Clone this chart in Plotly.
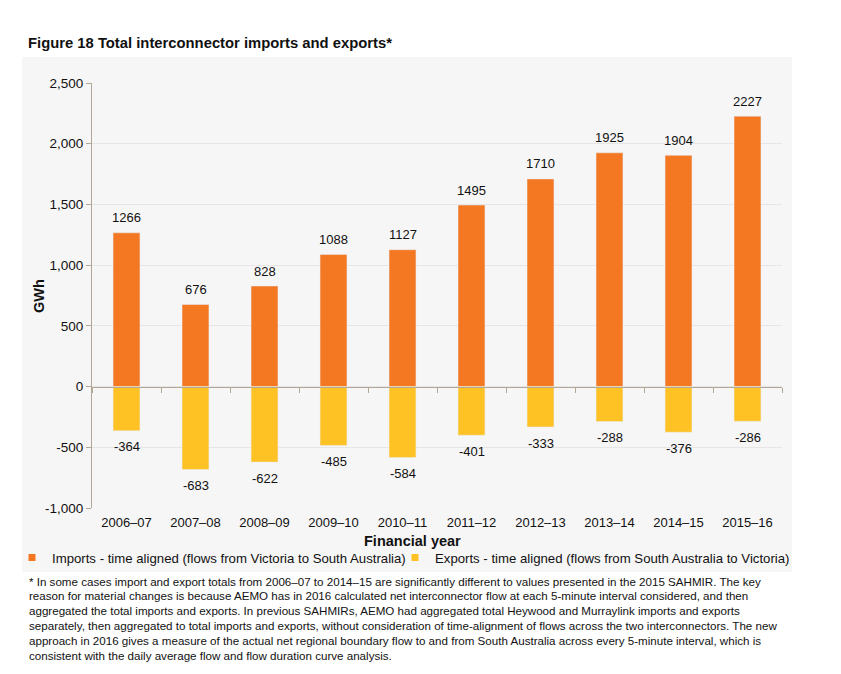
import plotly.graph_objects as go

years = ["2006–07", "2007–08", "2008–09", "2009–10", "2010–11",
         "2011–12", "2012–13", "2013–14", "2014–15", "2015–16"]
imports = [1266, 676, 828, 1088, 1127, 1495, 1710, 1925, 1904, 2227]
exports = [-364, -683, -622, -485, -584, -401, -333, -288, -376, -286]
y_ticks = [-1000, -500, 0, 500, 1000, 1500, 2000, 2500]
y_ticktext = ["-1,000", "-500", "0", "500", "1,000", "1,500", "2,000", "2,500"]

title = "Figure 18 Total interconnector imports and exports*"
imports_name = "Imports - time aligned (flows from Victoria to South Australia)"
exports_name = "Exports - time aligned (flows from South Australia to Victoria)"
footnote = [
    "* In some cases import and export totals from 2006–07 to 2014–15 are significantly different to values presented in the 2015 SAHMIR. The key",
    "reason for material changes is because AEMO has in 2016 calculated net interconnector flow at each 5-minute interval considered, and then",
    "aggregated the total imports and exports. In previous SAHMIRs, AEMO had aggregated total Heywood and Murraylink imports and exports",
    "separately, then aggregated to total imports and exports, without consideration of time-alignment of flows across the two interconnectors. The new",
    "approach in 2016 gives a measure of the actual net regional boundary flow to and from South Australia across every 5-minute interval, which is",
    "consistent with the daily average flow and flow duration curve analysis.",
]

W, H = 841, 674
L, R, T, B = 92, 782, 83, 508
YMIN, YMAX = -1000, 2500


def xp(px):
    return (px - L) / (R - L)


def yp(py):
    return (B - py) / (B - T)


ORANGE = "#F47721"
YELLOW = "#FEC225"
AXIS = "#B3A797"
GRID = "#E7E5E5"
PANEL = "#F7F6F6"
TXT = "#111111"
FONT = "Liberation Sans, Arial, Helvetica, sans-serif"

fig = go.Figure()
fig.add_trace(go.Bar(x=years, y=imports, name=imports_name,
                     marker_color=ORANGE, hoverinfo="x+y", showlegend=False))
fig.add_trace(go.Bar(x=years, y=exports, name=exports_name,
                     marker_color=YELLOW, hoverinfo="x+y", showlegend=False))
# legend entries with small square swatches (as in the reference)
fig.add_trace(go.Scatter(x=[None], y=[None], mode="markers", name=imports_name,
                         marker=dict(symbol="square", size=7, color=ORANGE),
                         legend="legend", hoverinfo="skip"))
fig.add_trace(go.Scatter(x=[None], y=[None], mode="markers", name=exports_name,
                         marker=dict(symbol="square", size=7, color=YELLOW),
                         legend="legend2", hoverinfo="skip"))
# invisible helper trace for the zero-line axis with boundary ticks
fig.add_trace(go.Scatter(
    x=years, y=[0] * len(years), xaxis="x2", mode="markers",
    marker=dict(opacity=0), showlegend=False, hoverinfo="skip",
))

annotations = []
# value labels
for yr, v in zip(years, imports):
    annotations.append(dict(x=yr, y=v, text=str(v), showarrow=False,
                            yanchor="middle", yshift=15,
                            font=dict(size=13, color=TXT, family=FONT)))
for yr, v in zip(years, exports):
    annotations.append(dict(x=yr, y=v, text=str(v), showarrow=False,
                            yanchor="middle", yshift=-16,
                            font=dict(size=13, color=TXT, family=FONT)))

annotations += [
    dict(text="<b>" + title + "</b>", xref="paper", yref="paper",
         x=xp(26), y=yp(43), xanchor="left", yanchor="middle", showarrow=False,
         font=dict(size=14.8, color=TXT, family=FONT)),
    dict(text="<b>GWh</b>", xref="paper", yref="paper", textangle=-90,
         x=xp(39), y=yp(296), xanchor="center", yanchor="middle", showarrow=False,
         font=dict(size=14.5, color=TXT, family=FONT)),
    dict(text="<b>Financial year</b>", xref="paper", yref="paper",
         x=xp(412), y=yp(541), xanchor="center", yanchor="middle", showarrow=False,
         font=dict(size=14.5, color=TXT, family=FONT)),
]
for i, line in enumerate(footnote):
    annotations.append(dict(
        text=line, xref="paper", yref="paper",
        x=xp(27), y=yp(581 + i * 14.8), xanchor="left", yanchor="middle",
        showarrow=False, font=dict(size=11.6, color=TXT, family=FONT)))

legend_common = dict(orientation="h", yref="paper", y=yp(558),
                     xanchor="left", yanchor="middle",
                     font=dict(size=13.2, family=FONT, color=TXT),
                     bgcolor="rgba(0,0,0,0)", itemwidth=30)

fig.update_layout(
    width=W, height=H,
    margin=dict(l=L, r=W - R, t=T, b=H - B, pad=0, autoexpand=False),
    paper_bgcolor="white", plot_bgcolor=PANEL,
    barmode="overlay", bargap=0.61,
    font=dict(family=FONT, size=13, color=TXT),
    showlegend=True,
    legend=dict(x=xp(12), **legend_common),
    legend2=dict(x=xp(395), **legend_common),
    xaxis=dict(type="category", range=[-0.5, len(years) - 0.5],
               showline=False, showgrid=False, ticks="", zeroline=False,
               ticklabelstandoff=5,
               tickfont=dict(size=13, family=FONT, color=TXT)),
    xaxis2=dict(type="category", overlaying="x", anchor="free",
                position=(0 - YMIN) / (YMAX - YMIN),
                range=[-0.5, len(years) - 0.5], showline=True, linecolor=AXIS,
                linewidth=1, ticks="outside", tickson="boundaries", ticklen=5,
                tickcolor=AXIS, showticklabels=False, showgrid=False,
                zeroline=False),
    yaxis=dict(range=[YMIN, YMAX], tickvals=y_ticks, ticktext=y_ticktext,
               showline=True, linecolor=AXIS, linewidth=1, ticks="outside",
               ticklen=5, tickcolor=AXIS, showgrid=True, gridcolor=GRID,
               gridwidth=1, zeroline=False,
               tickfont=dict(size=13.5, family=FONT, color=TXT)),
    shapes=[dict(type="rect", xref="paper", yref="paper", layer="below",
                 x0=xp(22), x1=xp(792), y0=yp(572), y1=yp(57),
                 fillcolor=PANEL, line=dict(width=0))],
    annotations=annotations,
)

fig.write_html("out.html")
